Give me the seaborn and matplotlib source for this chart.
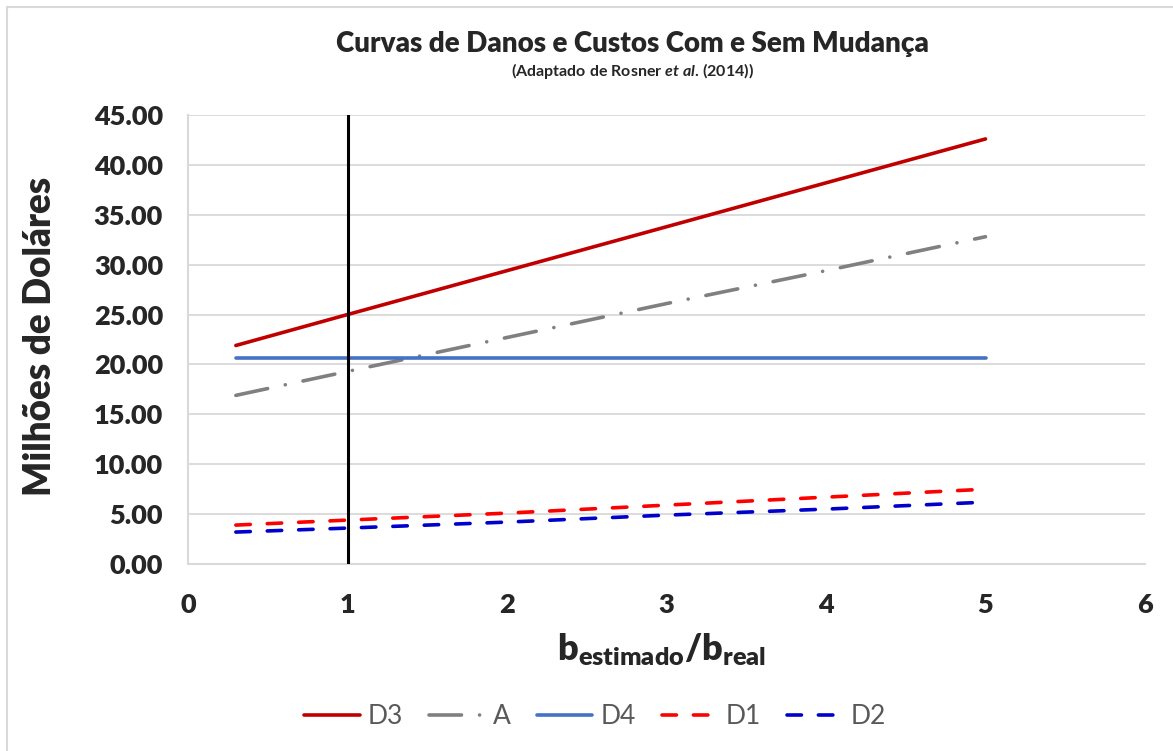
import numpy as np
import pandas as pd
import matplotlib
matplotlib.use("Agg")
import matplotlib.pyplot as plt
import seaborn as sns
from matplotlib.patches import Rectangle

# values
x_vals = [0.3, 1, 2, 3, 4, 5]
d3 = [21.9, 25.0, 29.4, 33.8, 38.2, 42.6]
a = [16.9, 19.3, 22.7, 26.1, 29.4, 32.8]
d4 = [20.6, 20.6, 20.6, 20.6, 20.6, 20.6]
d1 = [3.9, 4.4, 5.1, 5.9, 6.7, 7.5]
d2 = [3.2, 3.6, 4.2, 4.9, 5.5, 6.2]
series_names = ["D3", "A", "D4", "D1", "D2"]
x_ticks = [0, 1, 2, 3, 4, 5, 6]
y_ticks = [0, 5, 10, 15, 20, 25, 30, 35, 40, 45]

colors = {"D3": "#C00000", "A": "#808080", "D4": "#4472C4", "D1": "#FF0000", "D2": "#0000CC"}
dashes = {"D3": "", "A": (9, 5, 0.01, 5), "D4": "", "D1": (4, 4.7), "D2": (4, 4.7)}

df = pd.DataFrame({
    "x": x_vals * 5,
    "y": d3 + a + d4 + d1 + d2,
    "serie": [n for n in series_names for _ in x_vals],
})

sns.set_style("white")
plt.rcParams["font.family"] = ["Lato", "DejaVu Sans"]
plt.rcParams["mathtext.fontset"] = "custom"
plt.rcParams["mathtext.rm"] = "Lato:heavy"
plt.rcParams["mathtext.it"] = "Lato:italic:bold"
plt.rcParams["mathtext.bf"] = "Lato:bold"
plt.rcParams["lines.solid_capstyle"] = "round"
plt.rcParams["lines.dash_capstyle"] = "round"

fig = plt.figure(figsize=(11.73, 7.51), dpi=100)
W, H = 1173, 751
ax = fig.add_axes([188 / W, 1 - 564 / H, (1145 - 188) / W, (564 - 115) / H])

# chart area border
fig.patches.append(Rectangle((7 / W, -0.1), 1.2, 1 - 7 / H + 0.1, transform=fig.transFigure,
                             fill=False, edgecolor="#D9D9D9", lw=1.5))

ax.grid(axis="y", color="#D9D9D9", lw=1.3)
ax.set_axisbelow(True)

sns.lineplot(data=df, x="x", y="y", hue="serie", style="serie", hue_order=series_names,
             style_order=series_names, palette=colors, dashes=dashes, lw=2.6, ax=ax,
             legend=True)
ax.axvline(1, color="black", lw=2.2, zorder=5)

ax.set_xlim(0, 6)
ax.set_ylim(0, 45)
ax.set_xticks(x_ticks)
ax.set_yticks(y_ticks)
ax.set_yticklabels([f"{v:.2f}" for v in y_ticks])
ax.tick_params(axis="both", length=0, labelsize=19.5)
ax.tick_params(axis="y", pad=18)
ax.tick_params(axis="x", pad=21)
for lab in ax.get_xticklabels() + ax.get_yticklabels():
    lab.set_fontweight("heavy")

for s in ["top", "right"]:
    ax.spines[s].set_visible(False)
for s in ["left", "bottom"]:
    ax.spines[s].set_color("#D9D9D9")
    ax.spines[s].set_linewidth(1.5)
ax.set_xlabel("")
ax.set_ylabel("")

fig.text(40 / W, 1 - 336 / H, "Milhões de Doláres", rotation=90, ha="center", va="center",
         fontsize=26.5, fontweight="heavy")
fig.text(662 / W, 1 - 650 / H, r"$\mathrm{b_{estimado}/b_{real}}$", ha="center", va="center",
         fontsize=26)
fig.text(632 / W, 1 - 44 / H, "Curvas de Danos e Custos Com e Sem Mudança", ha="center",
         va="center", fontsize=20, fontweight="heavy")
fig.text(632 / W, 1 - 71 / H, r"(Adaptado de Rosner $\mathit{et\ al}$. (2014))", ha="center",
         va="center", fontsize=11.5, fontweight="bold")

handles, labels = ax.get_legend_handles_labels()
ax.get_legend().remove()
leg = fig.legend(handles, labels, loc="center", bbox_to_anchor=(595 / W, 1 - 717 / H), ncol=5,
                 frameon=False, fontsize=19, handlelength=2.1, handletextpad=0.3,
                 columnspacing=1.0, labelcolor="#595959")
for h in leg.get_lines():
    h.set_linewidth(2.6)

fig.savefig("out.png", dpi=100)
